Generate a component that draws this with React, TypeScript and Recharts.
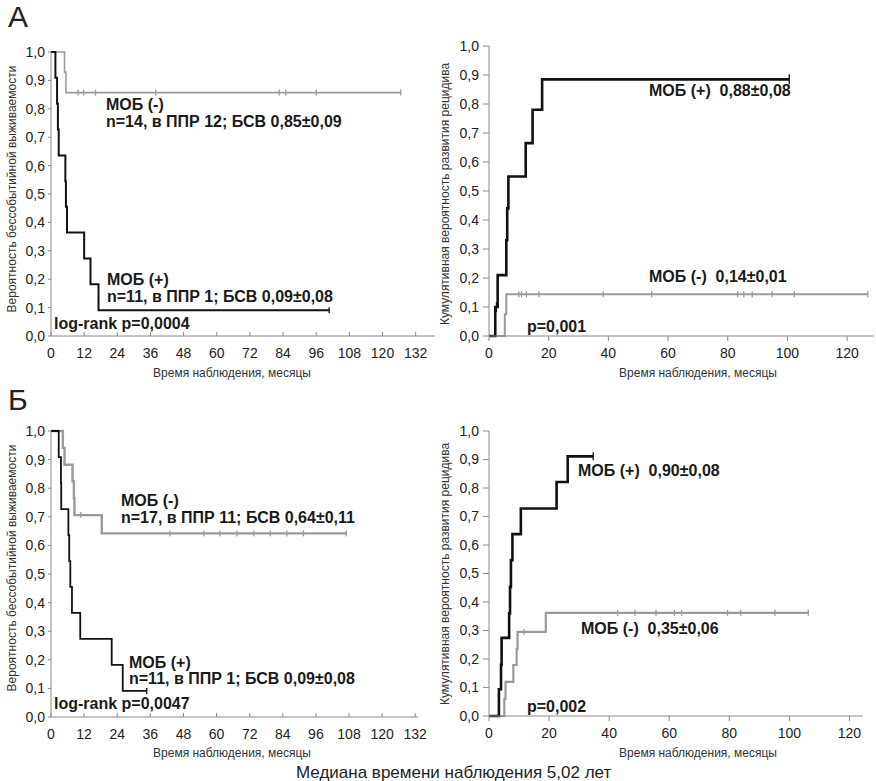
import React from 'react';
import { LineChart, Line, XAxis, YAxis } from 'recharts';

// ---- axis ticks ----
const probTicks = [0, 0.1, 0.2, 0.3, 0.4, 0.5, 0.6, 0.7, 0.8, 0.9, 1.0];
const efsMonthTicks = [0, 12, 24, 36, 48, 60, 72, 84, 96, 108, 120, 132];
const cirMonthTicks = [0, 20, 40, 60, 80, 100, 120];

// ---- А: event-free survival ----
const aPosEfsTimes = [1.6, 2.2, 2.5, 2.8, 5.2, 5.4, 5.8, 12.0, 14.3, 17.2];
const aPosEfs = [0.909, 0.818, 0.727, 0.636, 0.545, 0.455, 0.364, 0.273, 0.182, 0.091];
const aPosEfsCens = [100.7];
const aNegEfsTimes = [4.9, 5.4];
const aNegEfs = [0.929, 0.857];
const aNegEfsCens = [9.8, 11.8, 16.1, 37.9, 82.6, 85.0, 96.0, 126.6];

// ---- А: cumulative relapse ----
const aPosCirTimes = [2.1, 2.9, 5.8, 6.1, 6.5, 12.3, 14.6, 17.8];
const aPosCir = [0.1, 0.21, 0.33, 0.44, 0.55, 0.665, 0.78, 0.885];
const aPosCirCens = [2.5, 100.6];
const aNegCirTimes = [5.3, 5.8];
const aNegCir = [0.075, 0.144];
const aNegCirCens = [10.0, 10.9, 12.5, 16.7, 38.3, 54.5, 83.3, 85.4, 88.2, 94.9, 102.3, 126.9];

// ---- Б: event-free survival ----
const bPosEfsTimes = [2.8, 3.6, 3.7, 6.3, 6.6, 7.0, 7.6, 10.6, 22.0, 26.0];
const bPosEfs = [0.909, 0.818, 0.727, 0.636, 0.545, 0.455, 0.364, 0.273, 0.182, 0.091];
const bPosEfsCens = [34.7];
const bNegEfsTimes = [4.3, 4.9, 7.8, 8.3, 8.5, 18.4];
const bNegEfs = [0.941, 0.882, 0.824, 0.765, 0.706, 0.642];
const bNegEfsCens = [10.8, 43.1, 55.4, 61.2, 67.4, 73.5, 79.5, 85.5, 91.5, 107.0];

// ---- Б: cumulative relapse ----
const bPosCirTimes = [3.3, 4.0, 4.2, 6.7, 7.0, 7.3, 7.8, 10.6, 22.5, 26.2];
const bPosCir = [0.094, 0.18, 0.274, 0.36, 0.453, 0.547, 0.638, 0.728, 0.821, 0.911];
const bPosCirCens = [34.7];
const bNegCirTimes = [5.1, 5.5, 8.1, 9.2, 9.5, 18.9];
const bNegCir = [0.06, 0.12, 0.179, 0.235, 0.295, 0.362];
const bNegCirCens = [11.7, 42.8, 48.6, 55.6, 61.7, 64.1, 79.4, 83.8, 95.2, 106.3];

const BLACK = '#111';
const GRAY = '#9a9a9a';
const AXIS = '#8a8a8a';
const FONT = '"Liberation Sans", Arial, sans-serif';

type Pt = { t: number; v: number; c?: boolean };

function buildSeries(times: number[], vals: number[], cens: number[], start: number): Pt[] {
  const events: Pt[] = [{ t: 0, v: start }];
  times.forEach((t, i) => events.push({ t, v: vals[i] }));
  const out = [...events];
  cens.forEach((t) => {
    const prev = events.filter((e) => e.t <= t).pop()!;
    out.push({ t, v: prev.v, c: true });
  });
  return out.sort((a, b) => a.t - b.t);
}

const fmt = (v: number) => v.toFixed(1).replace('.', ',');

const censorDot = (color: string, h: number) => (props: any) => {
  const { cx, cy, payload, index } = props;
  if (!payload || !payload.c) return <g key={`d${index}`} />;
  return <line key={`d${index}`} x1={cx} x2={cx} y1={cy - h} y2={cy + h} stroke={color} strokeWidth={1.3} />;
};

type Series = { data: Pt[]; color: string; width: number; tick: number };

type PanelProps = {
  left: number; top: number; width: number; height: number;
  mTop: number; mRight: number; yWidth: number; xHeight: number;
  xMax: number; xTicks: number[]; xTickSize: number; xTickMargin: number;
  yTickSize: number; yTickMargin: number;
  series: Series[];
};

function Panel(p: PanelProps) {
  return (
    <div style={{ position: 'absolute', left: p.left, top: p.top }}>
      <LineChart width={p.width} height={p.height} margin={{ top: p.mTop, right: p.mRight, left: 0, bottom: 0 }}>
        <XAxis
          type="number"
          dataKey="t"
          domain={[0, p.xMax]}
          ticks={p.xTicks}
          interval={0}
          allowDataOverflow
          height={p.xHeight}
          stroke={AXIS}
          tickSize={p.xTickSize}
          tickMargin={p.xTickMargin}
          tick={{ fill: '#222', fontSize: 14 }}
        />
        <YAxis
          type="number"
          domain={[0, 1]}
          ticks={probTicks}
          interval={0}
          width={p.yWidth}
          stroke={AXIS}
          tickSize={p.yTickSize}
          tickMargin={p.yTickMargin}
          tickFormatter={fmt}
          tick={{ fill: '#222', fontSize: 14 }}
        />
        {p.series.map((s, i) => (
          <Line
            key={i}
            data={s.data}
            dataKey="v"
            type="stepAfter"
            stroke={s.color}
            strokeWidth={s.width}
            dot={censorDot(s.color, s.tick)}
            activeDot={false}
            isAnimationActive={false}
          />
        ))}
      </LineChart>
    </div>
  );
}

function Txt({ x, y, size = 16, bold = true, color = '#1a1a1a', children }: any) {
  return (
    <div style={{ position: 'absolute', left: x, top: y, transform: 'translateY(-50%)', fontSize: size, fontWeight: bold ? 700 : 400, color, whiteSpace: 'pre', lineHeight: 1 }}>
      {children}
    </div>
  );
}

function VTitle({ x, y, children }: any) {
  return (
    <div style={{ position: 'absolute', left: x, top: y, transform: 'translate(-50%, -50%) rotate(-90deg)', fontSize: 12, color: '#333', whiteSpace: 'nowrap', lineHeight: 1 }}>
      {children}
    </div>
  );
}

function HTitle({ x, y, children }: any) {
  return (
    <div style={{ position: 'absolute', left: x, top: y, transform: 'translate(-50%, -50%)', fontSize: 12, color: '#333', whiteSpace: 'nowrap', lineHeight: 1 }}>
      {children}
    </div>
  );
}

export default function App() {
  const efsLeft = { xTicks: efsMonthTicks, xTickSize: -4, xTickMargin: 16, yTickSize: 3, yTickMargin: 3, yWidth: 51 };
  const cirRight = { xTicks: cirMonthTicks, xTickSize: 5, xTickMargin: 7, yTickSize: 6, yTickMargin: 4, yWidth: 59 };

  return (
    <div style={{ position: 'absolute', left: 0, top: 0, width: 876, height: 781, background: '#fff', fontFamily: FONT, overflow: 'hidden' }}>
      <Panel
        left={0} top={0} width={450} height={390} mTop={52} mRight={15} xHeight={54} xMax={139}
        {...efsLeft}
        series={[
          { data: buildSeries(aNegEfsTimes, aNegEfs, aNegEfsCens, 1), color: GRAY, width: 1.6, tick: 3 },
          { data: buildSeries(aPosEfsTimes, aPosEfs, aPosEfsCens, 1), color: BLACK, width: 2, tick: 3 },
        ]}
      />
      <Panel
        left={430} top={0} width={446} height={390} mTop={46} mRight={2} xHeight={54} xMax={129}
        {...cirRight}
        series={[
          { data: buildSeries(aNegCirTimes, aNegCir, aNegCirCens, 0), color: GRAY, width: 2, tick: 3 },
          { data: buildSeries(aPosCirTimes, aPosCir, aPosCirCens, 0), color: BLACK, width: 2.6, tick: 5 },
        ]}
      />
      <Panel
        left={0} top={380} width={440} height={400} mTop={51} mRight={22} xHeight={63} xMax={133}
        {...efsLeft}
        series={[
          { data: buildSeries(bNegEfsTimes, bNegEfs, bNegEfsCens, 1), color: GRAY, width: 2.4, tick: 3 },
          { data: buildSeries(bPosEfsTimes, bPosEfs, bPosEfsCens, 1), color: BLACK, width: 1.8, tick: 3 },
        ]}
      />
      <Panel
        left={430} top={380} width={446} height={400} mTop={51} mRight={13} xHeight={64} xMax={124.5}
        {...cirRight}
        series={[
          { data: buildSeries(bNegCirTimes, bNegCir, bNegCirCens, 0), color: GRAY, width: 2.2, tick: 3 },
          { data: buildSeries(bPosCirTimes, bPosCir, bPosCirCens, 0), color: BLACK, width: 2.6, tick: 4 },
        ]}
      />

      {/* panel letters */}
      <Txt x={8} y={17} size={30} bold={false} color="#222">А</Txt>
      <Txt x={8} y={400} size={30} bold={false} color="#222">Б</Txt>

      {/* axis titles */}
      <VTitle x={12} y={189}>Вероятность бессобытийной выживаемости</VTitle>
      <VTitle x={445} y={194}>Кумулятивная вероятность развития рецидива</VTitle>
      <VTitle x={12} y={568}>Вероятность бессобытийной выживаемости</VTitle>
      <VTitle x={445} y={574}>Кумулятивная вероятность развития рецидива</VTitle>
      <HTitle x={232} y={373}>Время наблюдения, месяцы</HTitle>
      <HTitle x={698} y={373}>Время наблюдения, месяцы</HTitle>
      <HTitle x={232} y={753}>Время наблюдения, месяцы</HTitle>
      <HTitle x={698} y={753}>Время наблюдения, месяцы</HTitle>

      {/* А annotations */}
      <Txt x={106} y={105}>МОБ (-)</Txt>
      <Txt x={106} y={122}>n=14, в ППР 12; БСВ 0,85±0,09</Txt>
      <Txt x={107} y={280}>МОБ (+)</Txt>
      <Txt x={107} y={297}>n=11, в ППР 1; БСВ 0,09±0,08</Txt>
      <Txt x={54} y={324}>log-rank p=0,0004</Txt>
      <Txt x={649} y={91}>МОБ (+)  0,88±0,08</Txt>
      <Txt x={649} y={277}>МОБ (-)  0,14±0,01</Txt>
      <Txt x={527} y={327}>p=0,001</Txt>

      {/* Б annotations */}
      <Txt x={121} y={501}>МОБ (-)</Txt>
      <Txt x={121} y={518}>n=17, в ППР 11; БСВ 0,64±0,11</Txt>
      <Txt x={129} y={663}>МОБ (+)</Txt>
      <Txt x={129} y={679}>n=11, в ППР 1; БСВ 0,09±0,08</Txt>
      <Txt x={54} y={704}>log-rank p=0,0047</Txt>
      <Txt x={578} y={471}>МОБ (+)  0,90±0,08</Txt>
      <Txt x={581} y={629}>МОБ (-)  0,35±0,06</Txt>
      <Txt x={527} y={707}>p=0,002</Txt>

      <Txt x={296} y={772} size={17} bold={false} color="#222">Медиана времени наблюдения 5,02 лет</Txt>
    </div>
  );
}
